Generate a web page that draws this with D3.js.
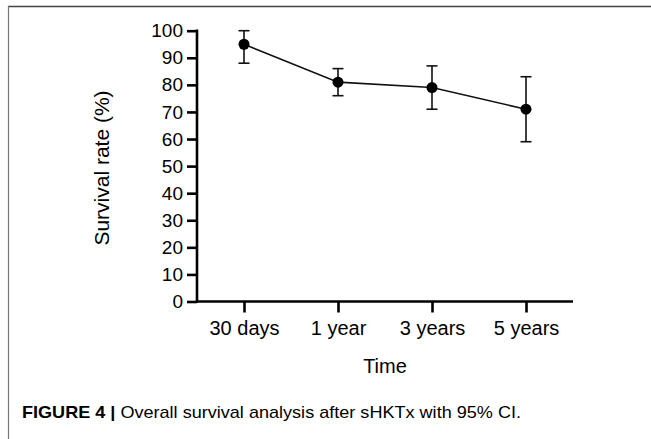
<!DOCTYPE html>
<html>
<head>
<meta charset="utf-8">
<script src="https://cdn.jsdelivr.net/npm/d3@7"></script>
<style>
  body { margin: 0; background: #fff; }
  text { font-family: "Liberation Sans", Arial, sans-serif; }
</style>
</head>
<body>
<div id="chart"></div>
<script>
// data
var timePoints = ["30 days", "1 year", "3 years", "5 years"];
var survival = [95, 81, 79, 71];
var ciLow = [88, 76, 71, 59];
var ciHigh = [100, 86, 87, 83];
var yTicks = [0, 10, 20, 30, 40, 50, 60, 70, 80, 90, 100];

var W = 651, H = 439;

var svg = d3.select("#chart")
    .append("svg")
    .attr("width", W)
    .attr("height", H);

// frame round the figure
svg.append("line").attr("x1", 8).attr("x2", W).attr("y1", 6.5).attr("y2", 6.5)
    .attr("stroke", "#444").attr("stroke-width", 1.5);
svg.append("line").attr("x1", 8.5).attr("x2", 8.5).attr("y1", 6).attr("y2", H)
    .attr("stroke", "#777").attr("stroke-width", 1.2);

// scales
var x = d3.scalePoint()
    .domain(timePoints)
    .range([197, 573])
    .padding(0.5);

var y = d3.scaleLinear()
    .domain([0, 100])
    .range([301.5, 30.7]);

// y axis
var yAxis = svg.append("g")
    .attr("transform", "translate(197,0)")
    .call(d3.axisLeft(y).tickValues(yTicks).tickSize(10).tickPadding(4));
yAxis.select(".domain").attr("stroke-width", 2.6)
    .attr("d", "M0," + (y(100) - 1.3) + "V" + (y(0) + 1.3));
yAxis.selectAll(".tick line").attr("stroke-width", 2.6);
yAxis.selectAll(".tick text").attr("font-size", 19).attr("fill", "#000");

// x axis
var xAxis = svg.append("g")
    .attr("transform", "translate(0," + y(0) + ")")
    .call(d3.axisBottom(x).tickSize(11).tickPadding(8));
xAxis.select(".domain").attr("stroke-width", 2.6)
    .attr("d", "M197,0H573");
xAxis.selectAll(".tick line").attr("stroke-width", 2.6);
xAxis.selectAll(".tick text").attr("font-size", 20).attr("fill", "#000");

// axis titles
svg.append("text")
    .attr("x", 385)
    .attr("y", 373)
    .attr("text-anchor", "middle")
    .attr("font-size", 20)
    .text("Time");

svg.append("text")
    .attr("transform", "translate(109,168) rotate(-90)")
    .attr("text-anchor", "middle")
    .attr("font-size", 21)
    .text("Survival rate (%)");

var data = timePoints.map(function(t, i) {
    return { t: t, v: survival[i], lo: ciLow[i], hi: ciHigh[i] };
});

// error bars
var bars = svg.append("g").attr("stroke", "#111").attr("stroke-width", 1.6);
data.forEach(function(d) {
    var cx = x(d.t);
    bars.append("line").attr("x1", cx).attr("x2", cx).attr("y1", y(d.lo)).attr("y2", y(d.hi));
    bars.append("line").attr("x1", cx - 5.5).attr("x2", cx + 5.5).attr("y1", y(d.lo)).attr("y2", y(d.lo));
    bars.append("line").attr("x1", cx - 5.5).attr("x2", cx + 5.5).attr("y1", y(d.hi)).attr("y2", y(d.hi));
});

// connecting line
svg.append("path")
    .datum(data)
    .attr("fill", "none")
    .attr("stroke", "#111")
    .attr("stroke-width", 1.6)
    .attr("d", d3.line().x(function(d) { return x(d.t); }).y(function(d) { return y(d.v); }));

// points
svg.selectAll(".dot")
    .data(data)
    .enter()
    .append("circle")
    .attr("class", "dot")
    .attr("cx", function(d) { return x(d.t); })
    .attr("cy", function(d) { return y(d.v); })
    .attr("r", 5.5)
    .attr("fill", "#000");

// caption
var cap = svg.append("text")
    .attr("x", 22)
    .attr("y", 418)
    .attr("font-size", 17)
    .attr("textLength", 499)
    .attr("lengthAdjust", "spacingAndGlyphs");
cap.append("tspan").attr("font-weight", "bold").text("FIGURE 4 | ");
cap.append("tspan").text("Overall survival analysis after sHKTx with 95% CI.");
</script>
</body>
</html>
